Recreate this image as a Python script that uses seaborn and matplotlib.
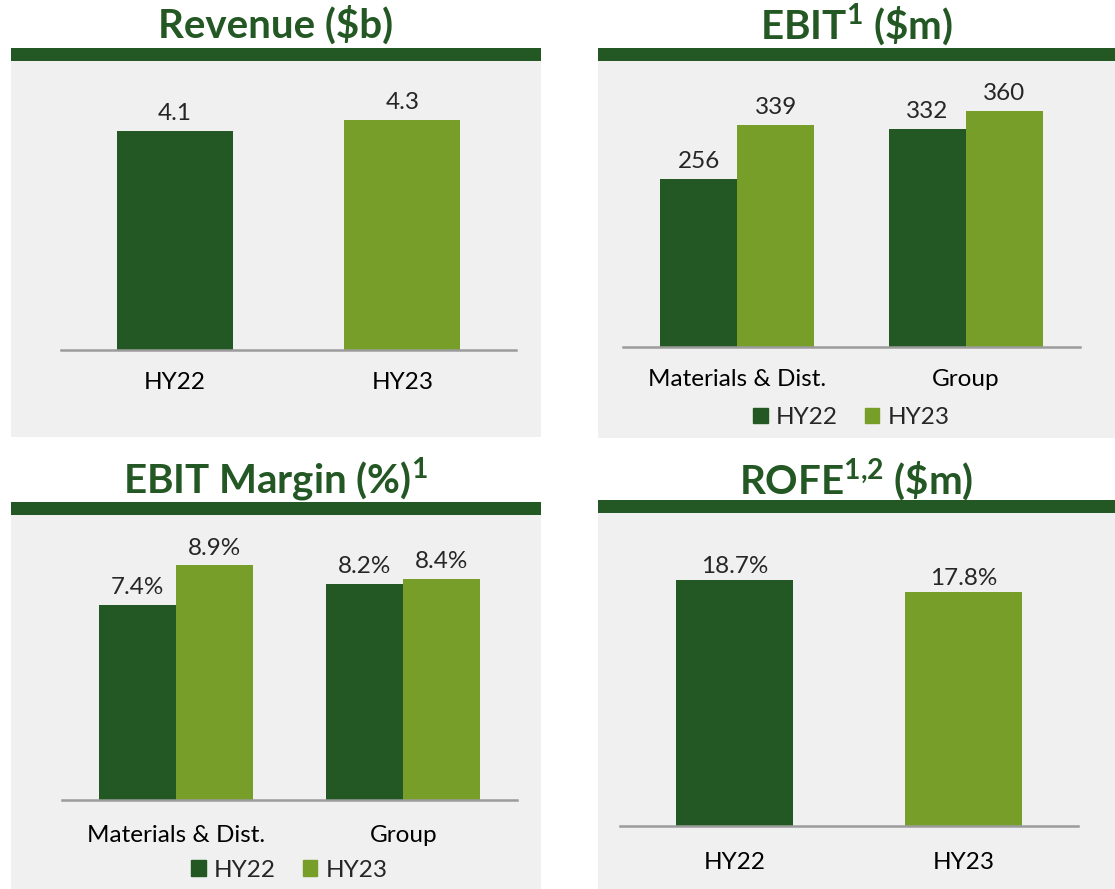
import numpy as np
import pandas as pd
import matplotlib
matplotlib.use("Agg")
import matplotlib.pyplot as plt
from matplotlib.patches import Rectangle
import seaborn as sns

# Data
periods = ["HY22", "HY23"]
segments = ["Materials & Dist.", "Group"]
revenue = [4.1, 4.3]
ebit_hy22 = [256, 332]
ebit_hy23 = [339, 360]
margin_hy22 = [7.4, 8.2]
margin_hy23 = [8.9, 8.4]
rofe = [18.7, 17.8]

dark = "#235723"
light = "#779E29"
panel_bg = "#F0F0F0"
axis_grey = "#9C9C9C"

sns.set_theme(style="white")
plt.rcParams["font.family"] = ["Lato", "DejaVu Sans"]
plt.rcParams["mathtext.fontset"] = "custom"
plt.rcParams["mathtext.rm"] = "Lato"
plt.rcParams["mathtext.bf"] = "Lato:bold"

W, H = 1115, 889
fig = plt.figure(figsize=(W / 100, H / 100), dpi=100)
fig.patch.set_facecolor("white")


def box(x0, y0, x1, y1):
    return [x0 / W, 1 - y1 / H, (x1 - x0) / W, (y1 - y0) / H]


def panel(x0, x1, band_top, bg_bottom, title, title_y):
    # grey background, green band and title
    b = box(x0, band_top + 12, x1, bg_bottom)
    fig.patches.append(Rectangle((b[0], b[1]), b[2], b[3], transform=fig.transFigure,
                                 facecolor=panel_bg, edgecolor="none", zorder=-2))
    g = box(x0, band_top, x1, band_top + 13)
    fig.patches.append(Rectangle((g[0], g[1]), g[2], g[3], transform=fig.transFigure,
                                 facecolor=dark, edgecolor="none", zorder=-1))
    fig.text((x0 + x1) / 2 / W, 1 - title_y / H, title, ha="center", va="center",
             fontsize=29, fontweight="bold", color=dark)


def style_ax(ax, ymax, pad=16):
    ax.set_facecolor("none")
    ax.set_ylim(0, ymax)
    ax.set_xlim(-0.5, 1.5)
    sns.despine(ax=ax, left=True, top=True, right=True)
    ax.spines["bottom"].set_color(axis_grey)
    ax.spines["bottom"].set_linewidth(1.8)
    ax.set_yticks([])
    ax.set_xlabel("")
    ax.set_ylabel("")
    ax.tick_params(axis="x", length=0, labelsize=17.5, pad=pad, colors="black")


def add_legend(ax):
    handles = [Rectangle((0, 0), 1, 1, color=dark), Rectangle((0, 0), 1, 1, color=light)]
    ax.legend(handles, periods, loc="upper center", bbox_to_anchor=(0.5, -0.175),
              ncol=2, frameon=False, fontsize=17.5, handlelength=0.6, handleheight=0.6,
              handletextpad=0.35, columnspacing=1.1, borderaxespad=0)


bar_kw = dict(saturation=1, linewidth=0)

# Revenue
panel(11, 541, 48, 437, "Revenue (\\$b)", 25)
ax1 = fig.add_axes(box(61, 61, 516, 350))
df1 = pd.DataFrame({"period": periods, "value": revenue})
sns.barplot(data=df1, x="period", y="value", hue="period", palette=[dark, light],
            width=0.51, legend=False, ax=ax1, **bar_kw)
style_ax(ax1, 289 / 53.4)
for c in ax1.containers:
    ax1.bar_label(c, fmt="%.1f", fontsize=17.5, padding=5)

# EBIT
panel(598, 1115, 48, 438, r"EBIT$^{\mathbf{1}}$ (\$m)", 25)
ax2 = fig.add_axes(box(623, 60, 1080, 347))
df2 = pd.DataFrame({"segment": segments * 2, "period": ["HY22"] * 2 + ["HY23"] * 2,
                    "value": ebit_hy22 + ebit_hy23})
sns.barplot(data=df2, x="segment", y="value", hue="period", palette=[dark, light],
            width=0.675, ax=ax2, **bar_kw)
style_ax(ax2, 287 / 0.656)
for c in ax2.containers:
    ax2.bar_label(c, fmt="%d", fontsize=17.5, padding=5)
add_legend(ax2)

# EBIT Margin
panel(11, 541, 502, 889, r"EBIT Margin (%)$^{\mathbf{1}}$", 480)
ax3 = fig.add_axes(box(62, 514, 517, 800))
df3 = pd.DataFrame({"segment": segments * 2, "period": ["HY22"] * 2 + ["HY23"] * 2,
                    "value": margin_hy22 + margin_hy23})
sns.barplot(data=df3, x="segment", y="value", hue="period", palette=[dark, light],
            width=0.675, ax=ax3, **bar_kw)
style_ax(ax3, 286 / 26.35, pad=18)
for c in ax3.containers:
    ax3.bar_label(c, fmt="%.1f%%", fontsize=17.5, padding=5)
add_legend(ax3)

# ROFE
panel(598, 1115, 500, 889, r"ROFE$^{\mathbf{1{,}2}}$ (\$m)", 480)
ax4 = fig.add_axes(box(620, 512, 1078, 826))
df4 = pd.DataFrame({"period": periods, "value": rofe})
sns.barplot(data=df4, x="period", y="value", hue="period", palette=[dark, light],
            width=0.51, legend=False, ax=ax4, **bar_kw)
style_ax(ax4, 314 / 13.15, pad=19)
for c in ax4.containers:
    ax4.bar_label(c, fmt="%.1f%%", fontsize=17.5, padding=2)

fig.savefig("out.png", dpi=100)
